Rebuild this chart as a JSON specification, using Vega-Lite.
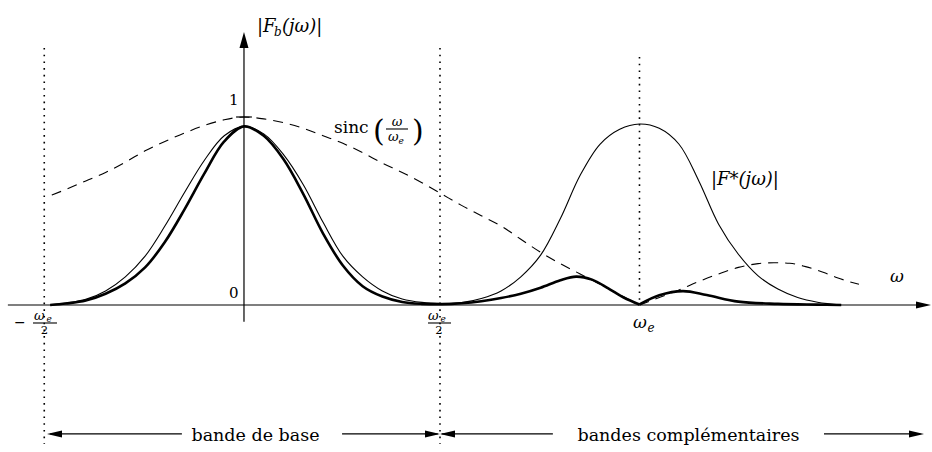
{
  "$schema": "https://vega.github.io/schema/vega-lite/v6.json",
  "width": 932,
  "height": 452,
  "autosize": {"type": "fit", "contains": "padding"},
  "padding": 0,
  "background": "white",
  "config": {"view": {"stroke": null}},
  "datasets": {
    "curves": [
      {"s":"thin","g":"a","u":-0.49,"v":0},{"s":"thin","g":"a","u":-0.45,"v":0.01},{"s":"thin","g":"a","u":-0.40,"v":0.03},{"s":"thin","g":"a","u":-0.35,"v":0.075},{"s":"thin","g":"a","u":-0.30,"v":0.15},{"s":"thin","g":"a","u":-0.25,"v":0.26},{"s":"thin","g":"a","u":-0.20,"v":0.42},{"s":"thin","g":"a","u":-0.15,"v":0.60},{"s":"thin","g":"a","u":-0.10,"v":0.77},{"s":"thin","g":"a","u":-0.05,"v":0.90},{"s":"thin","g":"a","u":0,"v":0.95},{"s":"thin","g":"a","u":0.05,"v":0.91},{"s":"thin","g":"a","u":0.10,"v":0.80},{"s":"thin","g":"a","u":0.15,"v":0.64},{"s":"thin","g":"a","u":0.20,"v":0.44},{"s":"thin","g":"a","u":0.25,"v":0.26},{"s":"thin","g":"a","u":0.30,"v":0.15},{"s":"thin","g":"a","u":0.35,"v":0.075},{"s":"thin","g":"a","u":0.40,"v":0.032},{"s":"thin","g":"a","u":0.45,"v":0.014},{"s":"thin","g":"a","u":0.50,"v":0.009},{"s":"thin","g":"a","u":0.55,"v":0.013},{"s":"thin","g":"a","u":0.60,"v":0.035},{"s":"thin","g":"a","u":0.65,"v":0.075},{"s":"thin","g":"a","u":0.70,"v":0.15},{"s":"thin","g":"a","u":0.75,"v":0.265},{"s":"thin","g":"a","u":0.80,"v":0.46},{"s":"thin","g":"a","u":0.85,"v":0.69},{"s":"thin","g":"a","u":0.90,"v":0.855},{"s":"thin","g":"a","u":0.95,"v":0.935},{"s":"thin","g":"a","u":1.00,"v":0.963},{"s":"thin","g":"a","u":1.05,"v":0.94},{"s":"thin","g":"a","u":1.10,"v":0.855},{"s":"thin","g":"a","u":1.15,"v":0.66},{"s":"thin","g":"a","u":1.20,"v":0.43},{"s":"thin","g":"a","u":1.25,"v":0.27},{"s":"thin","g":"a","u":1.30,"v":0.155},{"s":"thin","g":"a","u":1.35,"v":0.085},{"s":"thin","g":"a","u":1.40,"v":0.04},{"s":"thin","g":"a","u":1.45,"v":0.015},{"s":"thin","g":"a","u":1.51,"v":0},
      {"s":"bold","g":"a","u":-0.49,"v":0},{"s":"bold","g":"a","u":-0.45,"v":0.008},{"s":"bold","g":"a","u":-0.40,"v":0.024},{"s":"bold","g":"a","u":-0.35,"v":0.06},{"s":"bold","g":"a","u":-0.30,"v":0.115},{"s":"bold","g":"a","u":-0.25,"v":0.20},{"s":"bold","g":"a","u":-0.20,"v":0.335},{"s":"bold","g":"a","u":-0.15,"v":0.51},{"s":"bold","g":"a","u":-0.10,"v":0.70},{"s":"bold","g":"a","u":-0.05,"v":0.87},{"s":"bold","g":"a","u":0,"v":0.95},{"s":"bold","g":"a","u":0.05,"v":0.90},{"s":"bold","g":"a","u":0.10,"v":0.775},{"s":"bold","g":"a","u":0.15,"v":0.59},{"s":"bold","g":"a","u":0.20,"v":0.38},{"s":"bold","g":"a","u":0.25,"v":0.21},{"s":"bold","g":"a","u":0.30,"v":0.10},{"s":"bold","g":"a","u":0.35,"v":0.045},{"s":"bold","g":"a","u":0.40,"v":0.016},{"s":"bold","g":"a","u":0.45,"v":0.006},{"s":"bold","g":"a","u":0.50,"v":0.004},{"s":"bold","g":"a","u":0.55,"v":0.009},{"s":"bold","g":"a","u":0.60,"v":0.02},{"s":"bold","g":"a","u":0.65,"v":0.037},{"s":"bold","g":"a","u":0.70,"v":0.06},{"s":"bold","g":"a","u":0.75,"v":0.092},{"s":"bold","g":"a","u":0.80,"v":0.132},{"s":"bold","g":"a","u":0.84,"v":0.151},{"s":"bold","g":"a","u":0.88,"v":0.135},{"s":"bold","g":"a","u":0.92,"v":0.09},{"s":"bold","g":"a","u":0.96,"v":0.04},{"s":"bold","g":"a","u":1.00,"v":0.003},
      {"s":"bold","g":"b","u":1.00,"v":0.003},{"s":"bold","g":"b","u":1.05,"v":0.052},{"s":"bold","g":"b","u":1.11,"v":0.074},{"s":"bold","g":"b","u":1.17,"v":0.053},{"s":"bold","g":"b","u":1.25,"v":0.018},{"s":"bold","g":"b","u":1.35,"v":0.006},{"s":"bold","g":"b","u":1.45,"v":0.002},{"s":"bold","g":"b","u":1.51,"v":0},
      {"s":"sinc","g":"a","u":-0.486,"v":0.585},{"s":"sinc","g":"a","u":-0.45,"v":0.615},{"s":"sinc","g":"a","u":-0.40,"v":0.66},{"s":"sinc","g":"a","u":-0.35,"v":0.705},{"s":"sinc","g":"a","u":-0.30,"v":0.76},{"s":"sinc","g":"a","u":-0.25,"v":0.82},{"s":"sinc","g":"a","u":-0.20,"v":0.87},{"s":"sinc","g":"a","u":-0.15,"v":0.915},{"s":"sinc","g":"a","u":-0.10,"v":0.955},{"s":"sinc","g":"a","u":-0.05,"v":0.985},{"s":"sinc","g":"a","u":0,"v":1.0},{"s":"sinc","g":"a","u":0.05,"v":0.99},{"s":"sinc","g":"a","u":0.10,"v":0.97},{"s":"sinc","g":"a","u":0.15,"v":0.94},{"s":"sinc","g":"a","u":0.20,"v":0.90},{"s":"sinc","g":"a","u":0.25,"v":0.86},{"s":"sinc","g":"a","u":0.30,"v":0.81},{"s":"sinc","g":"a","u":0.35,"v":0.755},{"s":"sinc","g":"a","u":0.40,"v":0.705},{"s":"sinc","g":"a","u":0.45,"v":0.65},{"s":"sinc","g":"a","u":0.50,"v":0.59},{"s":"sinc","g":"a","u":0.55,"v":0.53},{"s":"sinc","g":"a","u":0.60,"v":0.475},{"s":"sinc","g":"a","u":0.65,"v":0.42},{"s":"sinc","g":"a","u":0.70,"v":0.35},{"s":"sinc","g":"a","u":0.75,"v":0.28},{"s":"sinc","g":"a","u":0.80,"v":0.22},{"s":"sinc","g":"a","u":0.85,"v":0.165},{"s":"sinc","g":"a","u":0.90,"v":0.11},{"s":"sinc","g":"a","u":0.95,"v":0.055},{"s":"sinc","g":"a","u":1.00,"v":0.0},
      {"s":"sinc","g":"b","u":1.00,"v":0.0},{"s":"sinc","g":"b","u":1.05,"v":0.04},{"s":"sinc","g":"b","u":1.10,"v":0.08},{"s":"sinc","g":"b","u":1.15,"v":0.125},{"s":"sinc","g":"b","u":1.20,"v":0.165},{"s":"sinc","g":"b","u":1.25,"v":0.2},{"s":"sinc","g":"b","u":1.30,"v":0.22},{"s":"sinc","g":"b","u":1.34,"v":0.225},{"s":"sinc","g":"b","u":1.38,"v":0.222},{"s":"sinc","g":"b","u":1.42,"v":0.204},{"s":"sinc","g":"b","u":1.47,"v":0.17},{"s":"sinc","g":"b","u":1.50,"v":0.145},{"s":"sinc","g":"b","u":1.555,"v":0.11}
    ],
    "segs": [
      {"role":"axis","u":-0.597,"u2":1.72,"v":0,"v2":0},
      {"role":"axis","u":0,"u2":0,"v":-0.089,"v2":1.40},
      {"role":"axis","u":-0.02,"u2":0.02,"v":1,"v2":1},
      {"role":"axis","u":-0.49,"u2":-0.157,"v":-0.686,"v2":-0.686},
      {"role":"axis","u":0.248,"u2":0.49,"v":-0.686,"v2":-0.686},
      {"role":"axis","u":0.50,"u2":0.781,"v":-0.686,"v2":-0.686},
      {"role":"axis","u":1.4665,"u2":1.71,"v":-0.686,"v2":-0.686},
      {"role":"bar","u":0.359,"u2":0.4147,"v":0.9362,"v2":0.9362},
      {"role":"bar","u":-0.5335,"u2":-0.4728,"v":-0.0957,"v2":-0.0957},
      {"role":"bar","u":0.4652,"u2":0.5234,"v":-0.0957,"v2":-0.0957},
      {"role":"dot","u":-0.505,"u2":-0.505,"v":1.367,"v2":-0.739},
      {"role":"dot","u":0.4956,"u2":0.4956,"v":1.367,"v2":-0.739},
      {"role":"dot","u":1.0,"u2":1.0,"v":1.319,"v2":0}
    ],
    "heads": [
      {"dir":"l","u":-0.4981,"v":-0.686},
      {"dir":"r","u":0.4956,"v":-0.686},
      {"dir":"l","u":0.4956,"v":-0.686},
      {"dir":"r","u":1.7194,"v":-0.686},
      {"dir":"r","u":1.7371,"v":0},
      {"dir":"up","u":0,"v":1.452}
    ],
    "labels": [
      {"role":"num","u":-0.0139,"v":1.0638,"t":"1"},
      {"role":"num","u":-0.0139,"v":0.0372,"t":"0"},
      {"role":"band","u":0.0291,"v":-0.7234,"t":"bande de base"},
      {"role":"band","u":1.1239,"v":-0.7234,"t":"bandes complémentaires"},
      {"role":"big","u":0.0329,"v":1.4495,"t":"|F"},
      {"role":"sub","u":0.0759,"v":1.4309,"t":"b"},
      {"role":"big","u":0.0961,"v":1.4495,"t":"(jω)|"},
      {"role":"big","u":1.1808,"v":0.6383,"t":"|F*(jω)|"},
      {"role":"rm","u":0.2276,"v":0.9149,"t":"sinc"},
      {"role":"paren","u":0.3262,"v":0.8723,"t":"("},
      {"role":"paren","u":0.4248,"v":0.8723,"t":")"},
      {"role":"frc","u":0.3869,"v":0.9495,"t":"ω"},
      {"role":"frl","u":0.3641,"v":0.8723,"t":"ω"},
      {"role":"fre","u":0.3906,"v":0.859,"t":"e"},
      {"role":"it","u":1.6334,"v":0.1223,"t":"ω"},
      {"role":"it","u":0.9836,"v":-0.1223,"t":"ω"},
      {"role":"sub","u":1.0202,"v":-0.1436,"t":"e"},
      {"role":"minus","u":-0.5815,"v":-0.117,"t":"−"},
      {"role":"frl","u":-0.531,"v":-0.0798,"t":"ω"},
      {"role":"fre","u":-0.4994,"v":-0.0878,"t":"e"},
      {"role":"frr","u":-0.5044,"v":-0.1569,"t":"2"},
      {"role":"frl","u":0.4652,"v":-0.0798,"t":"ω"},
      {"role":"fre","u":0.4968,"v":-0.0878,"t":"e"},
      {"role":"frr","u":0.493,"v":-0.1569,"t":"2"}
    ]
  },
  "encoding": {
    "x": {"field":"u","type":"quantitative","scale":{"domain":[-0.6169,1.7396],"nice":false,"zero":false},"axis":null},
    "y": {"field":"v","type":"quantitative","scale":{"domain":[-0.7819,1.6223],"nice":false,"zero":false},"axis":null}
  },
  "layer": [
    {"data":{"name":"segs"},"transform":[{"filter":"datum.role=='dot'"}],
     "mark":{"type":"rule","color":"#000","strokeWidth":1.6,"strokeDash":[1.6,5.1]},
     "encoding":{"x2":{"field":"u2"},"y2":{"field":"v2"}}},
    {"data":{"name":"segs"},"transform":[{"filter":"datum.role=='axis'"}],
     "mark":{"type":"rule","color":"#000","strokeWidth":1.2},
     "encoding":{"x2":{"field":"u2"},"y2":{"field":"v2"}}},
    {"data":{"name":"segs"},"transform":[{"filter":"datum.role=='bar'"}],
     "mark":{"type":"rule","color":"#000","strokeWidth":1.1},
     "encoding":{"x2":{"field":"u2"},"y2":{"field":"v2"}}},
    {"data":{"name":"curves"},"transform":[{"filter":"datum.s=='sinc'"}],
     "mark":{"type":"line","color":"#000","strokeWidth":1.1,"strokeDash":[10,7],"interpolate":"monotone"},
     "encoding":{"detail":{"field":"g"}}},
    {"data":{"name":"curves"},"transform":[{"filter":"datum.s=='thin'"}],
     "mark":{"type":"line","color":"#000","strokeWidth":1.1,"interpolate":"catmull-rom"},
     "encoding":{"detail":{"field":"g"}}},
    {"data":{"name":"curves"},"transform":[{"filter":"datum.s=='bold'"}],
     "mark":{"type":"line","color":"#000","strokeWidth":2.6,"interpolate":"catmull-rom"},
     "encoding":{"detail":{"field":"g"}}},
    {"data":{"name":"heads"},
     "mark":{"type":"point","filled":true,"color":"#000","opacity":1,"size":100},
     "encoding":{"shape":{"field":"dir","type":"nominal","scale":{"domain":["r","l","up"],"range":["M0,0L-3,-0.7L-3,0.7Z","M0,0L3,-0.7L3,0.7Z","M0,0L-0.9,3.2L0.9,3.2Z"]},"legend":null}}},
    {"data":{"name":"labels"},"transform":[{"filter":"datum.role=='num'"}],
     "mark":{"type":"text","font":"DejaVu Serif","fontSize":15,"align":"right","baseline":"alphabetic","color":"#000"},
     "encoding":{"text":{"field":"t"}}},
    {"data":{"name":"labels"},"transform":[{"filter":"datum.role=='band'"}],
     "mark":{"type":"text","font":"DejaVu Serif","fontSize":17.5,"align":"center","baseline":"alphabetic","color":"#000"},
     "encoding":{"text":{"field":"t"}}},
    {"data":{"name":"labels"},"transform":[{"filter":"datum.role=='big'"}],
     "mark":{"type":"text","font":"DejaVu Serif","fontStyle":"italic","fontSize":18,"align":"left","baseline":"alphabetic","color":"#000"},
     "encoding":{"text":{"field":"t"}}},
    {"data":{"name":"labels"},"transform":[{"filter":"datum.role=='it'"}],
     "mark":{"type":"text","font":"DejaVu Serif","fontStyle":"italic","fontSize":17,"align":"left","baseline":"alphabetic","color":"#000"},
     "encoding":{"text":{"field":"t"}}},
    {"data":{"name":"labels"},"transform":[{"filter":"datum.role=='sub'"}],
     "mark":{"type":"text","font":"DejaVu Serif","fontStyle":"italic","fontSize":12,"align":"left","baseline":"alphabetic","color":"#000"},
     "encoding":{"text":{"field":"t"}}},
    {"data":{"name":"labels"},"transform":[{"filter":"datum.role=='rm'"}],
     "mark":{"type":"text","font":"DejaVu Serif","fontSize":17,"align":"left","baseline":"alphabetic","color":"#000"},
     "encoding":{"text":{"field":"t"}}},
    {"data":{"name":"labels"},"transform":[{"filter":"datum.role=='paren'"}],
     "mark":{"type":"text","font":"DejaVu Serif","fontSize":30,"fontWeight":"normal","align":"left","baseline":"alphabetic","color":"#000"},
     "encoding":{"text":{"field":"t"}}},
    {"data":{"name":"labels"},"transform":[{"filter":"datum.role=='frc'"}],
     "mark":{"type":"text","font":"DejaVu Serif","fontStyle":"italic","fontSize":13,"align":"center","baseline":"alphabetic","color":"#000"},
     "encoding":{"text":{"field":"t"}}},
    {"data":{"name":"labels"},"transform":[{"filter":"datum.role=='frl'"}],
     "mark":{"type":"text","font":"DejaVu Serif","fontStyle":"italic","fontSize":13,"align":"left","baseline":"alphabetic","color":"#000"},
     "encoding":{"text":{"field":"t"}}},
    {"data":{"name":"labels"},"transform":[{"filter":"datum.role=='fre'"}],
     "mark":{"type":"text","font":"DejaVu Serif","fontStyle":"italic","fontSize":9,"align":"left","baseline":"alphabetic","color":"#000"},
     "encoding":{"text":{"field":"t"}}},
    {"data":{"name":"labels"},"transform":[{"filter":"datum.role=='frr'"}],
     "mark":{"type":"text","font":"DejaVu Serif","fontSize":11.5,"align":"center","baseline":"alphabetic","color":"#000"},
     "encoding":{"text":{"field":"t"}}},
    {"data":{"name":"labels"},"transform":[{"filter":"datum.role=='minus'"}],
     "mark":{"type":"text","font":"DejaVu Serif","fontSize":14,"align":"left","baseline":"alphabetic","color":"#000"},
     "encoding":{"text":{"field":"t"}}}
  ]
}
